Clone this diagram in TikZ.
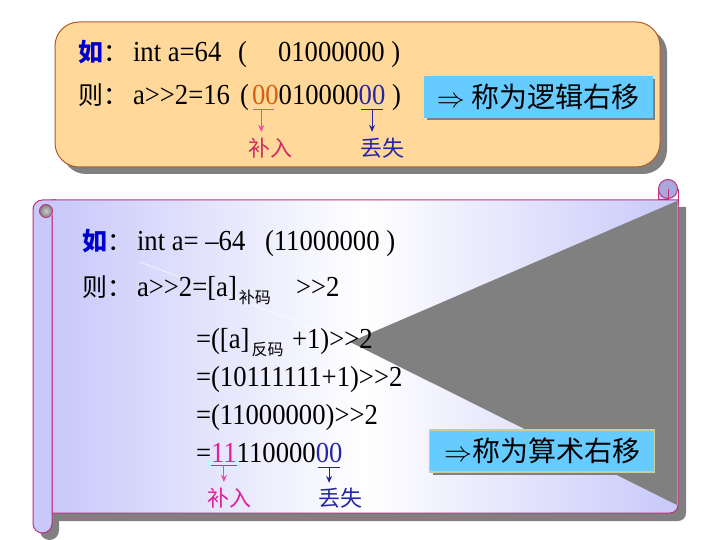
\RequirePackage{fix-cm}
\documentclass[tikz,border=0pt]{standalone}
\usepackage{fontspec}
\setmainfont[FakeStretch=0.92]{Liberation Serif}
\newfontfamily\cjk{Noto Sans CJK SC}
\usetikzlibrary{arrows.meta,shadows}
\definecolor{peach}{HTML}{FFD89A}
\definecolor{peachline}{HTML}{B35A2E}
\definecolor{shadowgray}{HTML}{808080}
\definecolor{lav}{HTML}{C8C8FA}
\definecolor{mag}{HTML}{C0307A}
\definecolor{skyblue}{HTML}{66CCFF}
\definecolor{tanline}{HTML}{CCCC99}
\definecolor{hblue}{HTML}{0000CC}
\definecolor{blue0}{HTML}{2525A8}
\definecolor{orange0}{HTML}{D06010}
\definecolor{pink0}{HTML}{F048B0}
\definecolor{red0}{HTML}{D02C62}
\definecolor{pink1}{HTML}{E0209A}
\definecolor{curlblue}{HTML}{A8A8DC}
\begin{document}
\begin{tikzpicture}[x=1pt,y=-1pt,
  txt/.style={inner sep=0pt,outer sep=0pt,anchor=base west,font=\fontsize{29}{29}\selectfont},
  hz/.style={inner sep=0pt,outer sep=0pt,anchor=base west,font=\cjk\fontsize{25}{25}\selectfont},
  sub/.style={inner sep=0pt,outer sep=0pt,anchor=base west,font=\cjk\fontsize{16}{16}\selectfont},
  lab/.style={inner sep=0pt,outer sep=0pt,font=\cjk\fontsize{22}{22}\selectfont},
  note/.style={fill=skyblue, minimum width=228pt, minimum height=41pt, inner sep=0pt,
    font=\cjk\fontsize{28}{28}\selectfont,
    drop shadow={shadow xshift=3pt,shadow yshift=-3pt,fill=shadowgray,opacity=1}},
  tip/.style={-{Stealth[length=7pt,width=6pt]}, line width=1pt}
]
\useasboundingbox (0,0) rectangle (720,540);
% ---------- top box ----------
\fill[shadowgray, rounded corners=24pt] (62,29) rectangle (667,174);
\filldraw[fill=peach, draw=peachline, line width=1pt, rounded corners=24pt] (55,22) rectangle (660,167);

\node[hz] (t1a) at (78,62) {\color{hblue}\bfseries 如\mdseries\color{black}：};
\node[txt] (t1b) at (133,62) {int a=64};
\node[txt] (t1c) at (238,62) {(};
\node[txt] (t1d) at (278,62) {01000000 )};

\node[hz] (t2a) at (78,105) {则：};
\node[txt] (t2b) at (133,105) {a>{}>2=16};
\node[txt] (t2c) at (240,105) {(};
\node[txt,text=orange0] (t2d) at (252,105) {00};
\node[txt] (t2e) at (t2d.base east) {010000};
\node[txt,text=blue0] (t2f) at (t2e.base east) {00};
\node[txt] (t2g) at (t2f.base east) {\ )};

\node[note, draw=skyblue] (n1) at (538,97) {$\Rightarrow$ 称为逻辑右移};

\node[lab,text=red0] (lab1) at (270,148) {补入};
\node[lab,text=blue0] (lab2) at (382,148) {丢失};

\coordinate (u1) at ([xshift=-4pt,yshift=-5pt]t2d.base);
\coordinate (u2) at ([yshift=-5pt]t2f.base);
\draw[pink0, line width=1pt] ([xshift=1pt,yshift=-5pt]t2d.base west) -- ([xshift=-5pt,yshift=-5pt]t2d.base east);
\draw[pink0, tip, shorten >=6pt] (u1) -- (u1 |- lab1.north);
\draw[blue0, line width=1pt] ([xshift=2pt,yshift=-5pt]t2f.base west) -- ([xshift=-2pt,yshift=-5pt]t2f.base east);
\draw[blue0, tip, shorten >=6pt] (u2) -- (u2 |- lab2.north);

% ---------- bottom scroll panel ----------
\fill[shadowgray] (59,207) -- (686,207) [rounded corners=8pt] -- (686,521) [sharp corners] -- (59,521) -- cycle;
\fill[shadowgray, rounded corners=9.5pt] (40,215) rectangle (59,540);

\path[draw=mag, line width=1pt, left color=lav, right color=lav, middle color=white]
  (52,200) -- (678,200) [rounded corners=8pt] -- (678,513) [sharp corners] -- (52,513) -- cycle;

\fill[shadowgray] (677,201) -- (350,342) -- (677,505) -- cycle;
\draw[white, line width=1pt, opacity=0.6] (140,262) -- (350,342);

% left roll
\filldraw[fill=lav, draw=mag, line width=1pt, rounded corners=9.5pt]
  (52,216) -- (52,533) -- (33,533) -- (33,200) -- (56,200);
\filldraw[draw=mag, line width=0.8pt, inner color=gray!40, outer color=gray] (46,211) circle (6.5pt);

% right curl
\filldraw[fill=lav, draw=mag, line width=1pt] (658,189) rectangle (668,200);
\filldraw[fill=curlblue, draw=mag, line width=1pt] (668,189) circle (9.5pt);
\draw[mag, line width=1pt] (668,189) -- (668,200);
\draw[mag, line width=1pt] (678,189) -- (678,205);

\node[hz] (c1a) at (82,251) {\color{hblue}\bfseries 如\mdseries\color{black}：};
\node[txt] (c1b) at (137,251) {int a= –64};
\node[txt] (c1c) at (265,251) {(11000000 )};

\node[hz] (c2a) at (82,296) {则：};
\node[txt] (c2b) at (137,296) {a>{}>2=[a]};
\node[sub] (c2s) at ([xshift=2pt,yshift=-7pt]c2b.base east) {补码};
\node[txt] (c2c) at (296,296) {>{}>2};

\node[txt] (c3a) at (196,348) {=([a]};
\node[sub] (c3s) at ([xshift=2pt,yshift=-7pt]c3a.base east) {反码};
\node[txt] (c3c) at (292,348) {+1)>{}>2};

\node[txt] (c4) at (196,386) {=(10111111+1)>{}>2};
\node[txt] (c5) at (196,424) {=(11000000)>{}>2};

\node[txt] (c6a) at (196,462) {=};
\node[txt,text=pink1] (c6b) at (c6a.base east) {11};
\node[txt] (c6c) at (c6b.base east) {110000};
\node[txt,text=blue0] (c6d) at (c6c.base east) {00};

\node[note, draw=tanline, line width=1.5pt, minimum width=225pt, minimum height=42pt] (n2) at (542,451) {$\Rightarrow$称为算术右移};

\node[lab,text=pink1] (lab3) at (229,498) {补入};
\node[lab,text=blue0] (lab4) at (340,498) {丢失};

\coordinate (v1) at ([yshift=-3pt]c6b.base);
\coordinate (v2) at ([yshift=-5pt]c6d.base);
\draw[pink1, line width=1pt] ([yshift=-3pt]c6b.base west) -- ([yshift=-3pt]c6b.base east);
\draw[pink0, tip, shorten >=6pt] (v1) -- (v1 |- lab3.north);
\draw[blue0, line width=1pt] ([xshift=2pt,yshift=-5pt]c6d.base west) -- ([xshift=-2pt,yshift=-5pt]c6d.base east);
\draw[blue0, tip, shorten >=5pt] (v2) -- (v2 |- lab4.north);
\end{tikzpicture}
\end{document}
